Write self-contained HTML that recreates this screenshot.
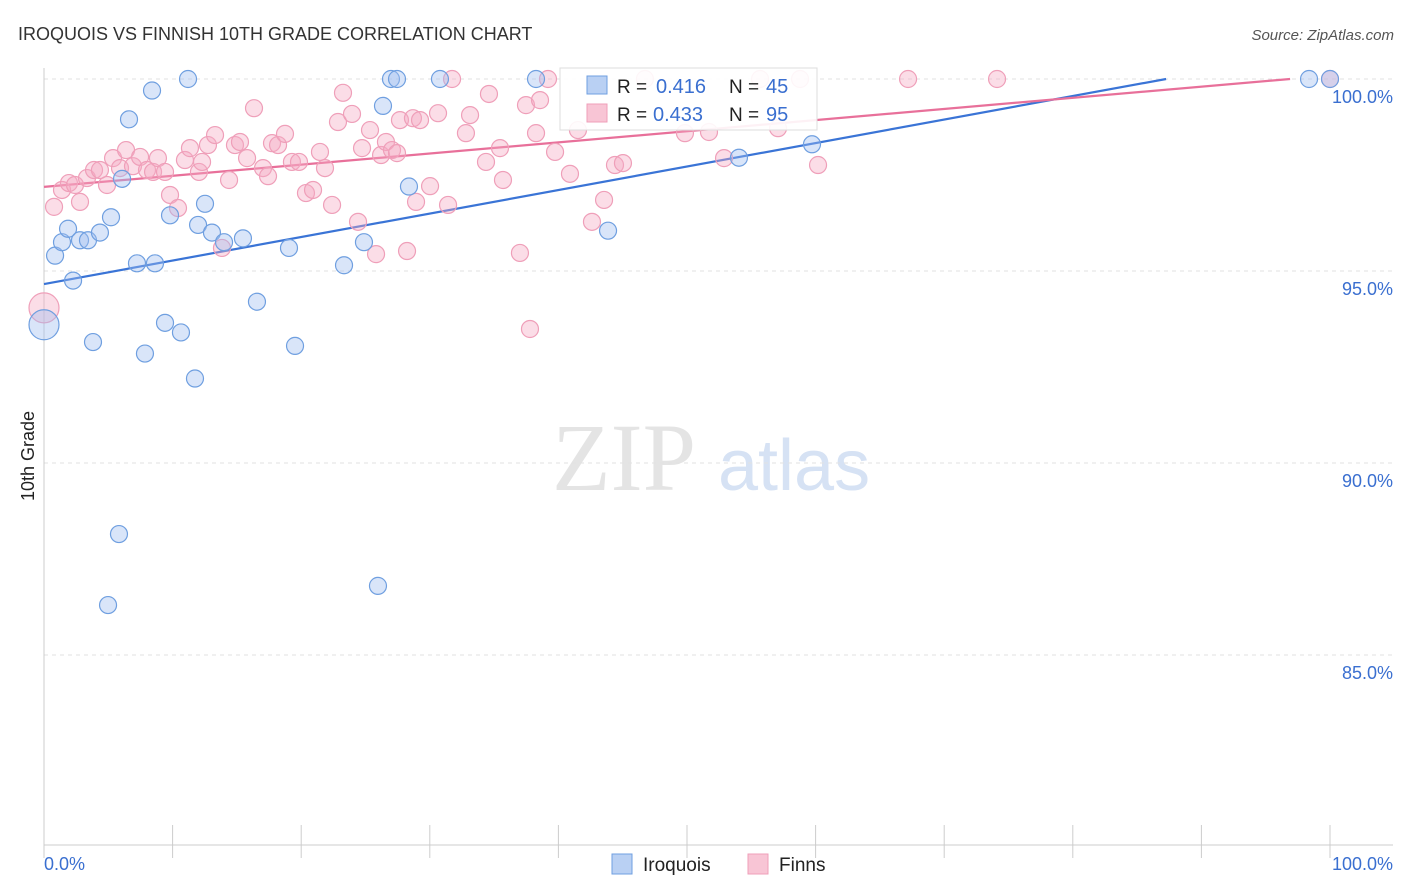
<!DOCTYPE html>
<html><head><meta charset="utf-8"><style>
body{margin:0;background:#fff;font-family:"Liberation Sans",sans-serif;}
#wrap{position:relative;width:1406px;height:892px;overflow:hidden;}
</style></head><body>
<div id="wrap">
<svg id="svg" width="1406" height="892" xmlns="http://www.w3.org/2000/svg">
<text x="18" y="40" font-size="18" fill="#333">IROQUOIS VS FINNISH 10TH GRADE CORRELATION CHART</text>
<text x="1394" y="40" font-size="15" fill="#555" text-anchor="end" font-style="italic">Source: ZipAtlas.com</text>
<text transform="translate(34,456) rotate(-90)" font-size="18" fill="#222" text-anchor="middle">10th Grade</text>
<g>
<text x="552" y="490" font-size="96" fill="#e4e4e4" font-family="Liberation Serif,serif">ZIP</text>
<text x="718" y="490" font-size="72" fill="#d6e2f4">atlas</text>
</g>
<g id="grid"></g><g id="axes"></g><g id="lines"></g><g id="pts"></g>
<g>
<rect x="560" y="68" width="257" height="62" fill="#fff" fill-opacity="0.9" stroke="#ddd"/>
<rect x="587" y="76" width="20" height="18" fill="#b9d0f3" stroke="#6f9fe0"/>
<text x="617" y="93" font-size="19" fill="#222">R =</text>
<text x="656" y="93" font-size="20" fill="#3a6fd0">0.416</text>
<text x="729" y="93" font-size="19" fill="#222">N =</text>
<text x="766" y="93" font-size="20" fill="#3a6fd0">45</text>
<rect x="587" y="104" width="20" height="18" fill="#f8c5d5" stroke="#ef9fb9"/>
<text x="617" y="121" font-size="19" fill="#222">R =</text>
<text x="653" y="121" font-size="20" fill="#3a6fd0">0.433</text>
<text x="729" y="121" font-size="19" fill="#222">N =</text>
<text x="766" y="121" font-size="20" fill="#3a6fd0">95</text>
</g>
<g>
<rect x="612" y="854" width="20" height="20" fill="#b9d0f3" stroke="#6f9fe0"/>
<text x="643" y="871" font-size="19" fill="#222">Iroquois</text>
<rect x="748" y="854" width="20" height="20" fill="#f8c5d5" stroke="#ef9fb9"/>
<text x="779" y="871" font-size="19" fill="#222">Finns</text>
</g>
</svg>
</div>
<script>
const yTicks=[100,95,90,85];
const yTickLabels=["100.0%","95.0%","90.0%","85.0%"];
const xTickLabels=["0.0%","100.0%"];
const iroquoisX=[0,0.86,1.4,1.87,2.26,2.8,3.42,3.81,4.35,5.21,5.83,4.98,6.07,6.61,7.23,7.85,8.4,8.63,9.41,9.8,10.65,11.2,11.74,11.98,12.52,13.06,14,15.47,16.56,19.05,19.52,23.33,24.88,25.97,26.36,26.98,27.45,28.38,30.79,38.26,43.86,54.04,59.72,98.37,100];
const iroquoisY=[93.6,95.4,95.75,96.1,94.75,95.8,95.8,93.15,96.0,96.4,88.15,86.3,97.4,98.95,95.2,92.85,99.7,95.2,93.65,96.45,93.4,100,92.2,96.2,96.75,96.0,95.75,95.85,94.2,95.6,93.05,95.15,95.75,86.8,99.3,100,100,97.2,100,100,96.05,97.95,98.3,100,100];
const finnsX=[0,0.78,1.40,1.94,2.41,2.80,3.34,3.89,4.35,4.90,5.37,5.91,6.38,6.92,7.47,8.01,8.48,8.86,9.41,9.80,10.42,10.96,11.35,12.05,12.29,12.75,13.30,13.84,14.39,14.85,15.24,15.79,16.33,17.03,17.42,17.73,18.20,18.74,19.28,19.83,20.37,20.92,21.46,21.85,22.40,22.86,23.25,23.95,24.42,24.73,25.35,25.82,26.21,26.59,27.06,27.45,27.68,28.23,28.69,28.93,29.24,30.02,30.64,31.42,31.73,32.81,33.13,34.37,34.60,35.46,35.69,37.01,37.48,37.79,38.26,38.57,39.19,39.74,40.90,41.52,42.61,43.55,44.40,45.02,46.73,49.84,51.71,52.88,55.68,57.08,58.79,60.19,67.19,74.11,100];
const finnsY=[94.04,96.67,97.11,97.29,97.24,96.80,97.42,97.63,97.63,97.24,97.94,97.68,98.15,97.73,97.97,97.63,97.58,97.94,97.58,96.98,96.64,97.89,98.20,97.58,97.84,98.28,98.54,95.60,97.37,98.28,98.36,97.94,99.24,97.68,97.47,98.33,98.28,98.57,97.84,97.84,97.03,97.11,98.10,97.68,96.72,98.88,99.64,99.09,96.28,98.20,98.67,95.44,98.02,98.36,98.15,98.07,98.93,95.52,98.98,96.80,98.93,97.21,99.11,96.72,100,98.59,99.06,97.84,99.61,98.20,97.37,95.47,99.32,93.49,98.59,99.45,100,98.10,97.53,98.67,96.28,96.85,97.76,97.81,100,98.59,98.62,97.94,100,98.72,100,97.76,100,100,100];
const trendIroquois=[94.66,100.78];
const trendFinns=[97.19,100.09];

const X0=44,X1=1330,Y100=79,PX=38.4;
const sx=v=>X0+(X1-X0)*v/100;
const sy=v=>Y100+(100-v)*PX;
const NS="http://www.w3.org/2000/svg";
function mk(tag,attrs,parent){const e=document.createElementNS(NS,tag);for(const k in attrs)e.setAttribute(k,attrs[k]);document.getElementById(parent).appendChild(e);return e;}
yTicks.forEach((t,i)=>{
 const l=mk('line',{x1:44,x2:1393,y1:sy(t),y2:sy(t),stroke:'#e2e2e2','stroke-dasharray':'4,4'},'grid');
 
 
 const tx=mk('text',{x:1393,y:sy(t)+24,'font-size':18,fill:'#3a6fd0','text-anchor':'end'},'grid');
 tx.textContent=yTickLabels[i];
 
 
});
let a=mk('line',{x1:44,x2:44,y1:68,y2:845,stroke:'#ccc'},'axes');

a=mk('line',{x1:44,x2:1393,y1:845,y2:845,stroke:'#ccc'},'axes');

for(let i=0;i<=10;i++){
 const t=mk('line',{x1:sx(i*10),x2:sx(i*10),y1:825,y2:858,stroke:'#ccc'},'axes');
 
 
}
[[0,'start',44],[100,'end',1393]].forEach((d,i)=>{
 const t=mk('text',{x:d[2],y:870,'font-size':18,fill:'#3a6fd0','text-anchor':d[1]},'axes');
 t.textContent=xTickLabels[i];
 
 
});
function trend(tr,color,name){
 let x2=100,y2=tr[1];
 if(tr[1]>100){x2=100*(100-tr[0])/(tr[1]-tr[0]);y2=100;}
 const l=mk('line',{x1:sx(0),y1:sy(tr[0]),x2:sx(x2),y2:sy(y2),stroke:color,'stroke-width':2.2},'lines');
 
 
}
trend(trendIroquois,'#3a74d6','trend-line-iroquois');
trend(trendFinns,'#e8709a','trend-line-finns');
function pts(xs,ys,fill,stroke,name){
 xs.forEach((x,i)=>{
  const c=mk('circle',{cx:sx(x),cy:sy(ys[i]),r:i===0?15:8.5,fill:fill,stroke:stroke,'stroke-width':1.2},'pts');
  
  
 });
}
pts(finnsX,finnsY,'rgba(245,170,195,0.4)','#ef9fb9','point-finns');
pts(iroquoisX,iroquoisY,'rgba(160,190,240,0.4)','#6f9fe0','point-iroquois');
</script>
</body></html>
